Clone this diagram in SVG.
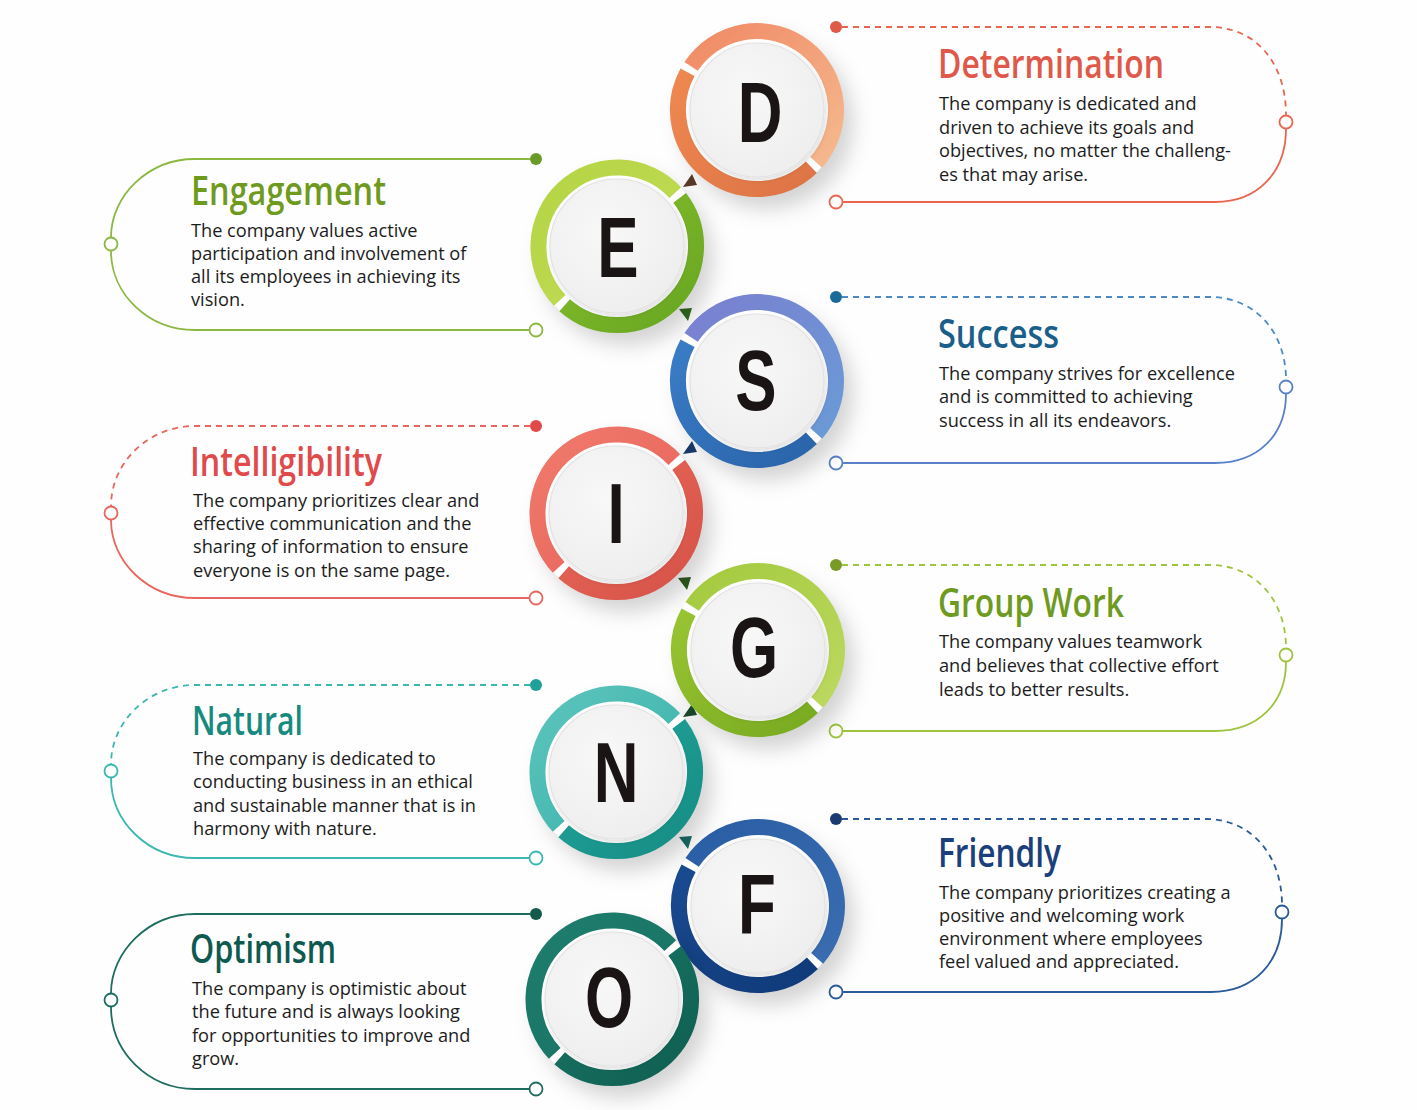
<svg xmlns="http://www.w3.org/2000/svg" xmlns:xlink="http://www.w3.org/1999/xlink" width="1417" height="1110" viewBox="0 0 1417 1110">
<style>
.title{font-family:"Open Sans","Liberation Sans",sans-serif;font-weight:600;font-size:39px}
.body{font-family:"Open Sans","Liberation Sans",sans-serif;font-size:18.2px;fill:#1c1c1c}
.letter{font-family:"Liberation Sans",Arial,sans-serif;font-weight:700;font-size:86px;fill:#1a1414;text-anchor:middle}
.ln{fill:none;stroke-width:1.8}
.dash{stroke-dasharray:6 5}
.open{fill:#fff;stroke-width:1.8}
.disk{fill:url(#diskG);stroke:#e2e2e2;stroke-width:1.2}
.ring{fill:none;stroke-width:16}
</style>
<defs>
<filter id="sh" x="-40%" y="-40%" width="180%" height="180%"><feDropShadow dx="10" dy="13" stdDeviation="10" flood-color="#000" flood-opacity="0.17"/></filter>
<filter id="dsh" x="-20%" y="-20%" width="140%" height="140%"><feDropShadow dx="1.5" dy="2.5" stdDeviation="2.5" flood-color="#000" flood-opacity="0.14"/></filter>
<radialGradient id="diskG" cx="0.42" cy="0.38" r="0.65"><stop offset="0" stop-color="#f8f8f8"/><stop offset="1" stop-color="#eeeeee"/></radialGradient>
<path id="rA" d="M-65.88,-43.60 A79,79 0 1 1 59.17,52.35"/>
<path id="rB" d="M54.38,57.31 A79,79 0 0 1 -69.43,-37.70"/>
<path id="lA" d="M-57.31,54.38 A79,79 0 1 1 58.25,-53.37"/>
<path id="lB" d="M62.68,-48.09 A79,79 0 0 1 -52.35,59.17"/>
<linearGradient id="dA" x1="0" y1="0" x2="1" y2="1"><stop offset="0" stop-color="#f08a66"/><stop offset="1" stop-color="#f5b98e"/></linearGradient>
<linearGradient id="dB" x1="0" y1="0" x2="1" y2="1"><stop offset="0" stop-color="#ee8850"/><stop offset="1" stop-color="#de7446"/></linearGradient>
<linearGradient id="eA" x1="0" y1="0" x2="1" y2="1"><stop offset="0" stop-color="#b4d444"/><stop offset="1" stop-color="#c4dc58"/></linearGradient>
<linearGradient id="eB" x1="0" y1="0" x2="1" y2="1"><stop offset="0" stop-color="#86be2c"/><stop offset="1" stop-color="#68a622"/></linearGradient>
<linearGradient id="sA" x1="0" y1="0" x2="1" y2="1"><stop offset="0" stop-color="#7a80d0"/><stop offset="1" stop-color="#6a9ad6"/></linearGradient>
<linearGradient id="sB" x1="0" y1="0" x2="1" y2="1"><stop offset="0" stop-color="#3a7cc6"/><stop offset="1" stop-color="#2a64aa"/></linearGradient>
<linearGradient id="iA" x1="0" y1="0" x2="1" y2="1"><stop offset="0" stop-color="#f07a6c"/><stop offset="1" stop-color="#e8625a"/></linearGradient>
<linearGradient id="iB" x1="0" y1="0" x2="1" y2="1"><stop offset="0" stop-color="#e8685a"/><stop offset="1" stop-color="#d65248"/></linearGradient>
<linearGradient id="gA" x1="0" y1="0" x2="1" y2="1"><stop offset="0" stop-color="#a4ca3e"/><stop offset="1" stop-color="#bcd860"/></linearGradient>
<linearGradient id="gB" x1="0" y1="0" x2="1" y2="1"><stop offset="0" stop-color="#98c432"/><stop offset="1" stop-color="#78aa20"/></linearGradient>
<linearGradient id="nA" x1="0" y1="0" x2="1" y2="1"><stop offset="0" stop-color="#5cc4bc"/><stop offset="1" stop-color="#3ab2aa"/></linearGradient>
<linearGradient id="nB" x1="0" y1="0" x2="1" y2="1"><stop offset="0" stop-color="#22a69c"/><stop offset="1" stop-color="#168c84"/></linearGradient>
<linearGradient id="fA" x1="0" y1="0" x2="1" y2="1"><stop offset="0" stop-color="#2a5ea4"/><stop offset="1" stop-color="#3a6cb0"/></linearGradient>
<linearGradient id="fB" x1="0" y1="0" x2="1" y2="1"><stop offset="0" stop-color="#1a4a90"/><stop offset="1" stop-color="#0f3a7a"/></linearGradient>
<linearGradient id="oA" x1="0" y1="0" x2="1" y2="1"><stop offset="0" stop-color="#1e7e6e"/><stop offset="1" stop-color="#187062"/></linearGradient>
<linearGradient id="oB" x1="0" y1="0" x2="1" y2="1"><stop offset="0" stop-color="#1a7868"/><stop offset="1" stop-color="#0f5e50"/></linearGradient>
</defs>
<rect width="1417" height="1110" fill="#fefefe"/>

<g id="connectors">
  <g stroke="#e8664f">
    <path class="ln dash" d="M842,27 H1210 C1255,27 1286,62 1286,115"/>
    <path class="ln" d="M1286,129 C1286,172 1258,202 1215,202 H842"/>
    <circle cx="836" cy="27" r="6" fill="#e05a48" stroke="none"/>
    <circle class="open" cx="1286" cy="122" r="6.5"/>
    <circle class="open" cx="836" cy="202" r="6.5"/>
  </g>
  <g stroke="#8ab840">
    <path class="ln" d="M530,159 H195 C148,159 111,196 111,237"/>
    <path class="ln" d="M111,251 C111,294 148,330 195,330 H530"/>
    <circle cx="536" cy="159" r="6" fill="#6a9a28" stroke="none"/>
    <circle class="open" cx="111" cy="244" r="6.5"/>
    <circle class="open" cx="536" cy="330" r="6.5"/>
  </g>
  <g stroke="#5a82c8">
    <path class="ln dash" stroke="#4a8ac6" d="M842,297 H1210 C1255,297 1286,332 1286,380"/>
    <path class="ln" d="M1286,394 C1286,435 1258,463 1215,463 H842"/>
    <circle cx="836" cy="297" r="6" fill="#1a6a9a" stroke="none"/>
    <circle class="open" cx="1286" cy="387" r="6.5"/>
    <circle class="open" cx="836" cy="463" r="6.5"/>
  </g>
  <g stroke="#e8665e">
    <path class="ln dash" d="M530,426 H195 C148,426 111,463 111,506"/>
    <path class="ln" d="M111,520 C111,562 148,598 195,598 H530"/>
    <circle cx="536" cy="426" r="6" fill="#e04a48" stroke="none"/>
    <circle class="open" cx="111" cy="513" r="6.5"/>
    <circle class="open" cx="536" cy="598" r="6.5"/>
  </g>
  <g stroke="#9ec43e">
    <path class="ln dash" d="M842,565 H1210 C1255,565 1286,600 1286,648"/>
    <path class="ln" d="M1286,662 C1286,703 1258,731 1215,731 H842"/>
    <circle cx="836" cy="565" r="6" fill="#7a9a28" stroke="none"/>
    <circle class="open" cx="1286" cy="655" r="6.5"/>
    <circle class="open" cx="836" cy="731" r="6.5"/>
  </g>
  <g stroke="#3ab8b0">
    <path class="ln dash" d="M530,685 H195 C148,685 111,722 111,764"/>
    <path class="ln" d="M111,778 C111,822 148,858 195,858 H530"/>
    <circle cx="536" cy="685" r="6" fill="#20a098" stroke="none"/>
    <circle class="open" cx="111" cy="771" r="6.5"/>
    <circle class="open" cx="536" cy="858" r="6.5"/>
  </g>
  <g stroke="#2a5a9a">
    <path class="ln dash" d="M842,819 H1206 C1251,819 1282,855 1282,905"/>
    <path class="ln" d="M1282,919 C1282,962 1254,992 1211,992 H842"/>
    <circle cx="836" cy="819" r="6" fill="#1a3a70" stroke="none"/>
    <circle class="open" cx="1282" cy="912" r="6.5"/>
    <circle class="open" cx="836" cy="992" r="6.5"/>
  </g>
  <g stroke="#1e6e60">
    <path class="ln" d="M530,914 H195 C148,914 111,952 111,993"/>
    <path class="ln" d="M111,1007 C111,1052 148,1089 195,1089 H530"/>
    <circle cx="536" cy="914" r="6" fill="#145a4a" stroke="none"/>
    <circle class="open" cx="111" cy="1000" r="6.5"/>
    <circle class="open" cx="536" cy="1089" r="6.5"/>
  </g>
  <polygon points="683,187 697,185 692,174" fill="#5a3a28"/>
  <polygon points="679,309 692,308 688,321" fill="#2f6a1e"/>
  <polygon points="683,454 697,452 692,441" fill="#1a3a6a"/>
  <polygon points="678,578 691,577 687,590" fill="#2e5a1e"/>
  <polygon points="683,717 697,715 692,704" fill="#1a4a2c"/>
  <polygon points="679,837 692,836 688,849" fill="#1a6a66"/>
</g>

<g id="node-D">
  <circle cx="757" cy="110" r="86" fill="#fff" filter="url(#sh)"/>
  <g transform="translate(757,110)"><use href="#rA" class="ring" stroke="url(#dA)"/><use href="#rB" class="ring" stroke="url(#dB)"/></g>
  <circle class="disk" cx="757" cy="110" r="67" filter="url(#dsh)"/>
  <text class="letter" transform="translate(760,142) scale(0.72,1)">D</text>
  <text class="title" x="938" y="78" fill="#e0584a" textLength="226" lengthAdjust="spacingAndGlyphs">Determination</text>
  <text class="body" x="939" y="110">The company is dedicated and</text>
  <text class="body" x="939" y="133.5">driven to achieve its goals and</text>
  <text class="body" x="939" y="157">objectives, no matter the challeng-</text>
  <text class="body" x="939" y="180.5">es that may arise.</text>
</g>

<g id="node-E">
  <circle cx="617" cy="246" r="86" fill="#fff" filter="url(#sh)"/>
  <g transform="translate(617,246)"><use href="#lA" class="ring" stroke="url(#eA)"/><use href="#lB" class="ring" stroke="url(#eB)"/></g>
  <circle class="disk" cx="617" cy="246" r="67" filter="url(#dsh)"/>
  <text class="letter" transform="translate(618,277) scale(0.72,1)">E</text>
  <text class="title" x="191" y="205" fill="#6e9a1e" textLength="195" lengthAdjust="spacingAndGlyphs">Engagement</text>
  <text class="body" x="191" y="237">The company values active</text>
  <text class="body" x="191" y="260">participation and involvement of</text>
  <text class="body" x="191" y="283">all its employees in achieving its</text>
  <text class="body" x="191" y="306">vision.</text>
</g>

<g id="node-S">
  <circle cx="757" cy="381" r="86" fill="#fff" filter="url(#sh)"/>
  <g transform="translate(757,381)"><use href="#rA" class="ring" stroke="url(#sA)"/><use href="#rB" class="ring" stroke="url(#sB)"/></g>
  <circle class="disk" cx="757" cy="381" r="67" filter="url(#dsh)"/>
  <text class="letter" transform="translate(756,410) scale(0.72,1)">S</text>
  <text class="title" x="938" y="348" fill="#1a5e8a" textLength="121" lengthAdjust="spacingAndGlyphs">Success</text>
  <text class="body" x="939" y="380">The company strives for excellence</text>
  <text class="body" x="939" y="403">and is committed to achieving</text>
  <text class="body" x="939" y="427">success in all its endeavors.</text>
</g>

<g id="node-I">
  <circle cx="616" cy="513" r="86" fill="#fff" filter="url(#sh)"/>
  <g transform="translate(616,513)"><use href="#lA" class="ring" stroke="url(#iA)"/><use href="#lB" class="ring" stroke="url(#iB)"/></g>
  <circle class="disk" cx="616" cy="513" r="67" filter="url(#dsh)"/>
  <text class="letter" transform="translate(616,543) scale(0.72,1)">I</text>
  <text class="title" x="190" y="476" fill="#e04a4a" textLength="192" lengthAdjust="spacingAndGlyphs">Intelligibility</text>
  <text class="body" x="193" y="507">The company prioritizes clear and</text>
  <text class="body" x="193" y="530">effective communication and the</text>
  <text class="body" x="193" y="553">sharing of information to ensure</text>
  <text class="body" x="193" y="577">everyone is on the same page.</text>
</g>

<g id="node-G">
  <circle cx="758" cy="650" r="86" fill="#fff" filter="url(#sh)"/>
  <g transform="translate(758,650)"><use href="#rA" class="ring" stroke="url(#gA)"/><use href="#rB" class="ring" stroke="url(#gB)"/></g>
  <circle class="disk" cx="758" cy="650" r="67" filter="url(#dsh)"/>
  <text class="letter" transform="translate(754,677) scale(0.72,1)">G</text>
  <text class="title" x="938" y="617" fill="#6e9a1e" textLength="186" lengthAdjust="spacingAndGlyphs">Group Work</text>
  <text class="body" x="939" y="648">The company values teamwork</text>
  <text class="body" x="939" y="672">and believes that collective effort</text>
  <text class="body" x="939" y="696">leads to better results.</text>
</g>

<g id="node-N">
  <circle cx="616" cy="772" r="86" fill="#fff" filter="url(#sh)"/>
  <g transform="translate(616,772)"><use href="#lA" class="ring" stroke="url(#nA)"/><use href="#lB" class="ring" stroke="url(#nB)"/></g>
  <circle class="disk" cx="616" cy="772" r="67" filter="url(#dsh)"/>
  <text class="letter" transform="translate(616,802) scale(0.72,1)">N</text>
  <text class="title" x="192" y="735" fill="#168a7e" textLength="111" lengthAdjust="spacingAndGlyphs">Natural</text>
  <text class="body" x="193" y="765">The company is dedicated to</text>
  <text class="body" x="193" y="788">conducting business in an ethical</text>
  <text class="body" x="193" y="812">and sustainable manner that is in</text>
  <text class="body" x="193" y="835">harmony with nature.</text>
</g>

<g id="node-F">
  <circle cx="758" cy="906" r="86" fill="#fff" filter="url(#sh)"/>
  <g transform="translate(758,906)"><use href="#rA" class="ring" stroke="url(#fA)"/><use href="#rB" class="ring" stroke="url(#fB)"/></g>
  <circle class="disk" cx="758" cy="906" r="67" filter="url(#dsh)"/>
  <text class="letter" transform="translate(757,934) scale(0.72,1)">F</text>
  <text class="title" x="938" y="867" fill="#1a3f7a" textLength="123" lengthAdjust="spacingAndGlyphs">Friendly</text>
  <text class="body" x="939" y="899">The company prioritizes creating a</text>
  <text class="body" x="939" y="922">positive and welcoming work</text>
  <text class="body" x="939" y="945">environment where employees</text>
  <text class="body" x="939" y="968">feel valued and appreciated.</text>
</g>

<g id="node-O">
  <circle cx="612" cy="999" r="86" fill="#fff" filter="url(#sh)"/>
  <g transform="translate(612,999)"><use href="#lA" class="ring" stroke="url(#oA)"/><use href="#lB" class="ring" stroke="url(#oB)"/></g>
  <circle class="disk" cx="612" cy="999" r="67" filter="url(#dsh)"/>
  <text class="letter" transform="translate(609,1027) scale(0.72,1)">O</text>
  <text class="title" x="190" y="963" fill="#0f5a50" textLength="146" lengthAdjust="spacingAndGlyphs">Optimism</text>
  <text class="body" x="192" y="995">The company is optimistic about</text>
  <text class="body" x="192" y="1018">the future and is always looking</text>
  <text class="body" x="192" y="1042">for opportunities to improve and</text>
  <text class="body" x="192" y="1065">grow.</text>
</g>
</svg>
